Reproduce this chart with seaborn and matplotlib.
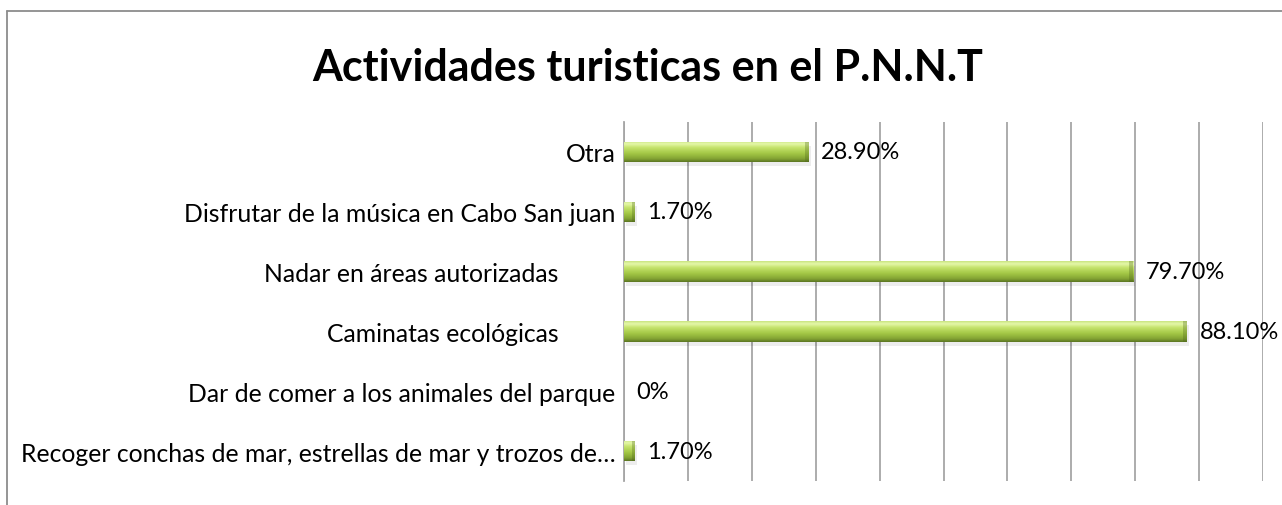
import numpy as np
import matplotlib
matplotlib.use("Agg")
import matplotlib.pyplot as plt
from matplotlib.colors import LinearSegmentedColormap
from matplotlib.lines import Line2D
import seaborn as sns

# ── data ──────────────────────────────────────────────────────────────
categories = [
    "Otra",
    "Disfrutar de la música en Cabo San juan",
    "Nadar en áreas autorizadas         ",
    "Caminatas ecológicas         ",
    "Dar de comer a los animales del parque",
    "Recoger conchas de mar, estrellas de mar y trozos de…",
]
values = [28.9, 1.7, 79.7, 88.1, 0.0, 1.7]
title = "Actividades turisticas en el P.N.N.T"

# ── style ─────────────────────────────────────────────────────────────
sns.set_theme(style="white")
plt.rcParams["font.family"] = ["Lato", "DejaVu Sans"]

GRID = "#a6a6a6"
FRAME = "#8c8c8c"
bevel = LinearSegmentedColormap.from_list(
    "bevel",
    [(0.0, "#c8e47e"), (0.12, "#e6f8ac"), (0.3, "#c6e46e"),
     (0.6, "#a2c644"), (0.85, "#84a434"), (1.0, "#5a7522")],
)

fig = plt.figure(figsize=(12.82, 5.06), dpi=100)
ax = fig.add_axes([624 / 1282, 1 - 482 / 506, (1263 - 624) / 1282, (482 - 123) / 506])

sns.barplot(x=values, y=categories, orient="h", color="#a2c644",
            width=0.34, ax=ax, saturation=1, zorder=3, linewidth=0)

ax.set_xlim(0, 100)
ax.set_xticks(np.arange(0, 101, 10))
ax.set_xticklabels([])
ax.tick_params(axis="x", length=0)
ax.tick_params(axis="y", length=0, pad=6, labelsize=17.8, labelcolor="black")
ax.set_xlabel("")
ax.set_ylabel("")
ax.grid(axis="x", color=GRID, linewidth=1.3, zorder=0)
ax.grid(axis="y", visible=False)
for side in ["top", "right", "bottom"]:
    ax.spines[side].set_visible(False)
ax.spines["left"].set_color(GRID)
ax.spines["left"].set_linewidth(1.3)

# gradient "bevel" fill + soft shadow for each bar
grad = np.linspace(0, 1, 64).reshape(-1, 1)
for patch in list(ax.patches):
    x0, y0 = patch.get_x(), patch.get_y()
    w, h = patch.get_width(), patch.get_height()
    if w <= 0:
        patch.set_visible(False)
        continue
    shadow = plt.Rectangle((x0 + 0.3, y0 + 0.07), w, h, color="#000000",
                           alpha=0.07, zorder=2, linewidth=0)
    ax.add_patch(shadow)
    im = ax.imshow(grad, cmap=bevel, aspect="auto", zorder=4,
                   extent=(x0, x0 + w, y0 + h, y0), interpolation="bicubic")
    im.set_clip_path(patch)
    cap = min(0.6, w * 0.25)
    end = plt.Rectangle((x0 + w - cap, y0), cap, h,
                        color="#4a6218", alpha=0.3, zorder=5, linewidth=0)
    ax.add_patch(end)
ax.set_ylim(len(categories) - 0.5, -0.5)
ax.set_xlim(0, 100)

# data labels
for i, v in enumerate(values):
    txt = "0%" if v == 0 else f"{v:.2f}%"
    ax.annotate(txt, (v, i), xytext=(9, 0), textcoords="offset points",
                va="center", ha="left", fontsize=17, color="black", zorder=6,
                annotation_clip=False)

fig.text(0.505, 1 - 68 / 506, title, ha="center", va="center",
         fontsize=31, fontweight="bold", color="black")

# chart area frame (left and top edges visible in the crop)
fig.add_artist(Line2D([7 / 1282, 7 / 1282], [0, 1 - 12 / 506],
                      transform=fig.transFigure, color=FRAME, linewidth=1.3))
fig.add_artist(Line2D([7 / 1282, 1], [1 - 12 / 506, 1 - 12 / 506],
                      transform=fig.transFigure, color=FRAME, linewidth=1.3))

fig.savefig("out.png", dpi=100, facecolor="white")
